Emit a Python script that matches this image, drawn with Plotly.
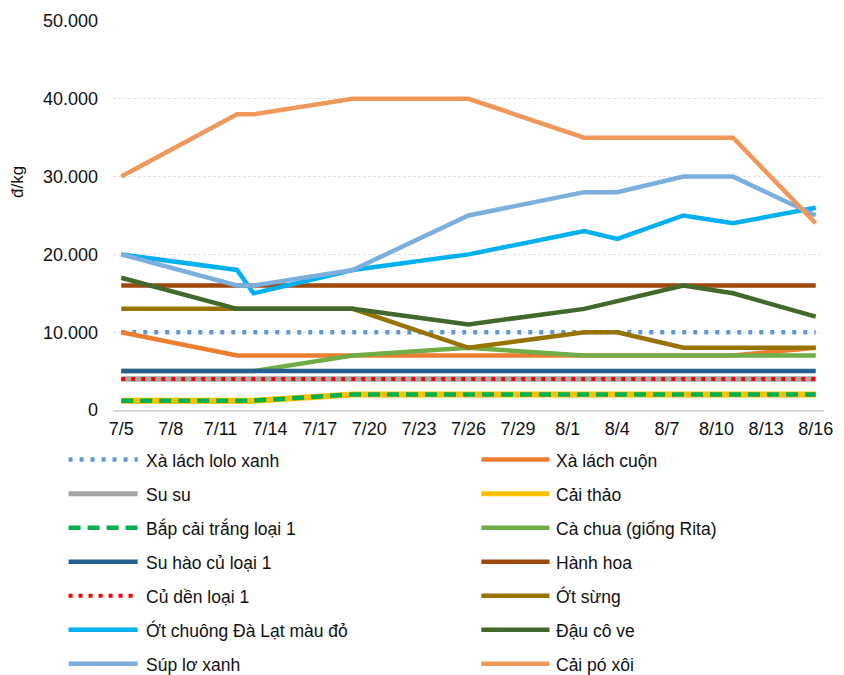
import plotly.graph_objects as go

# Observation dates and the price series (đ/kg) for each vegetable
dates = ["2024-07-05", "2024-07-12", "2024-07-13", "2024-07-19", "2024-07-26",
         "2024-08-02", "2024-08-04", "2024-08-08", "2024-08-11", "2024-08-16"]

xa_lach_lolo_xanh = [10000, 10000, 10000, 10000, 10000, 10000, 10000, 10000, 10000, 10000]
xa_lach_cuon = [10000, 7000, 7000, 7000, 7000, 7000, 7000, 7000, 7000, 8000]
su_su = [4000, 4000, 4000, 4000, 4000, 4000, 4000, 4000, 4000, 4000]
cai_thao = [1200, 1200, 1200, 2000, 2000, 2000, 2000, 2000, 2000, 2000]
bap_cai_trang = [1200, 1200, 1200, 2000, 2000, 2000, 2000, 2000, 2000, 2000]
ca_chua = [5000, 5000, 5000, 7000, 8000, 7000, 7000, 7000, 7000, 7000]
su_hao = [5000, 5000, 5000, 5000, 5000, 5000, 5000, 5000, 5000, 5000]
hanh_hoa = [16000, 16000, 16000, 16000, 16000, 16000, 16000, 16000, 16000, 16000]
cu_den = [4000, 4000, 4000, 4000, 4000, 4000, 4000, 4000, 4000, 4000]
ot_sung = [13000, 13000, 13000, 13000, 8000, 10000, 10000, 8000, 8000, 8000]
ot_chuong = [20000, 18000, 15000, 18000, 20000, 23000, 22000, 25000, 24000, 26000]
dau_co_ve = [17000, 13000, 13000, 13000, 11000, 13000, 14000, 16000, 15000, 12000]
sup_lo_xanh = [20000, 16000, 16000, 18000, 25000, 28000, 28000, 30000, 30000, 25000]
cai_po_xoi = [30000, 38000, 38000, 40000, 40000, 35000, 35000, 35000, 35000, 24000]

tick_labels = ["7/5", "7/8", "7/11", "7/14", "7/17", "7/20", "7/23", "7/26",
               "7/29", "8/1", "8/4", "8/7", "8/10", "8/13", "8/16"]
y_ticks = [0, 10000, 20000, 30000, 40000, 50000]

# name, values, colour, dash, width
series = [
    ("Xà lách lolo xanh", xa_lach_lolo_xanh, "#5B9BD5", "4px,7px", 4.5),
    ("Xà lách cuộn", xa_lach_cuon, "#ED7D31", "solid", 4.5),
    ("Su su", su_su, "#A5A5A5", "solid", 5.5),
    ("Cải thảo", cai_thao, "#FFC000", "solid", 6),
    ("Bắp cải trắng loại 1", bap_cai_trang, "#00B050", "12px,7px", 4.5),
    ("Cà chua (giống Rita)", ca_chua, "#70AD47", "solid", 4.5),
    ("Su hào củ loại 1", su_hao, "#255E91", "solid", 4.5),
    ("Hành hoa", hanh_hoa, "#9E480E", "solid", 4.5),
    ("Củ dền loại 1", cu_den, "#FF0000", "4px,6px", 4),
    ("Ớt sừng", ot_sung, "#997300", "solid", 4.5),
    ("Ớt chuông Đà Lạt màu đỏ", ot_chuong, "#00B0F0", "solid", 4.5),
    ("Đậu cô ve", dau_co_ve, "#43682B", "solid", 4.5),
    ("Súp lơ xanh", sup_lo_xanh, "#7CAFDD", "solid", 4.5),
    ("Cải pó xôi", cai_po_xoi, "#F1975A", "solid", 4.5),
]

W, H = 844, 675
L, R, T, B = 113, 833, 18, 410  # plot area in pixels
FONT = "Liberation Sans, Arial, sans-serif"
TXT = "#111111"


def px(x):
    return (x - L) / (R - L)


def py(y):
    return (B - y) / (B - T)


fig = go.Figure()
for name, vals, color, dash, width in series:
    fig.add_trace(go.Scatter(
        x=dates, y=vals, mode="lines", name=name,
        line=dict(color=color, width=width, dash=dash),
        showlegend=False,
    ))

# Two-column legend drawn below the plot
shapes = []
annotations = []
row_y0, row_step = 460, 34.3
col_line = [(68, 138, 144), (486, 555, 560)]
for i, (name, vals, color, dash, width) in enumerate(series):
    col, row = i % 2, i // 2
    x0, x1, xt = col_line[col]
    yy = row_y0 + row * row_step
    shapes.append(dict(type="line", xref="paper", yref="paper",
                       x0=px(x0), x1=px(x1), y0=py(yy), y1=py(yy),
                       line=dict(color=color, width=min(width, 5), dash=dash)))
    annotations.append(dict(xref="paper", yref="paper", x=px(xt), y=py(yy + 1),
                            text=name, showarrow=False, xanchor="left",
                            yanchor="middle",
                            font=dict(family=FONT, size=17.5, color=TXT)))

annotations.append(dict(xref="paper", yref="paper", x=px(17), y=py(180),
                        text="đ/kg", textangle=-90, showarrow=False,
                        xanchor="center", yanchor="middle",
                        font=dict(family=FONT, size=17, color=TXT)))

tick_dates = []
for lab in tick_labels:
    m, d = lab.split("/")
    tick_dates.append(f"2024-{int(m):02d}-{int(d):02d}")

fig.update_layout(
    width=W, height=H,
    margin=dict(l=L, r=W - R, t=T, b=H - B, pad=0),
    paper_bgcolor="white", plot_bgcolor="white",
    separators=",.",
    shapes=shapes, annotations=annotations,
    font=dict(family=FONT, size=18, color=TXT),
    xaxis=dict(
        type="date", range=["2024-07-04 12:00", "2024-08-16 12:00"],
        tickvals=tick_dates, ticktext=tick_labels,
        showgrid=False, showline=True, linecolor="#D9D9D9", linewidth=2,
        ticks="", ticklabelstandoff=1,
        tickfont=dict(family=FONT, size=18, color=TXT),
        zeroline=False,
    ),
    yaxis=dict(
        range=[0, 50000], tickvals=y_ticks, tickformat=",d",
        showgrid=True, gridcolor="#E3E3E3", gridwidth=1, griddash="3px,2px",
        zeroline=False, showline=False, ticks="", ticklabelstandoff=14,
        tickfont=dict(family=FONT, size=18, color=TXT),
    ),
    showlegend=False,
)

fig.write_html("out.html")
